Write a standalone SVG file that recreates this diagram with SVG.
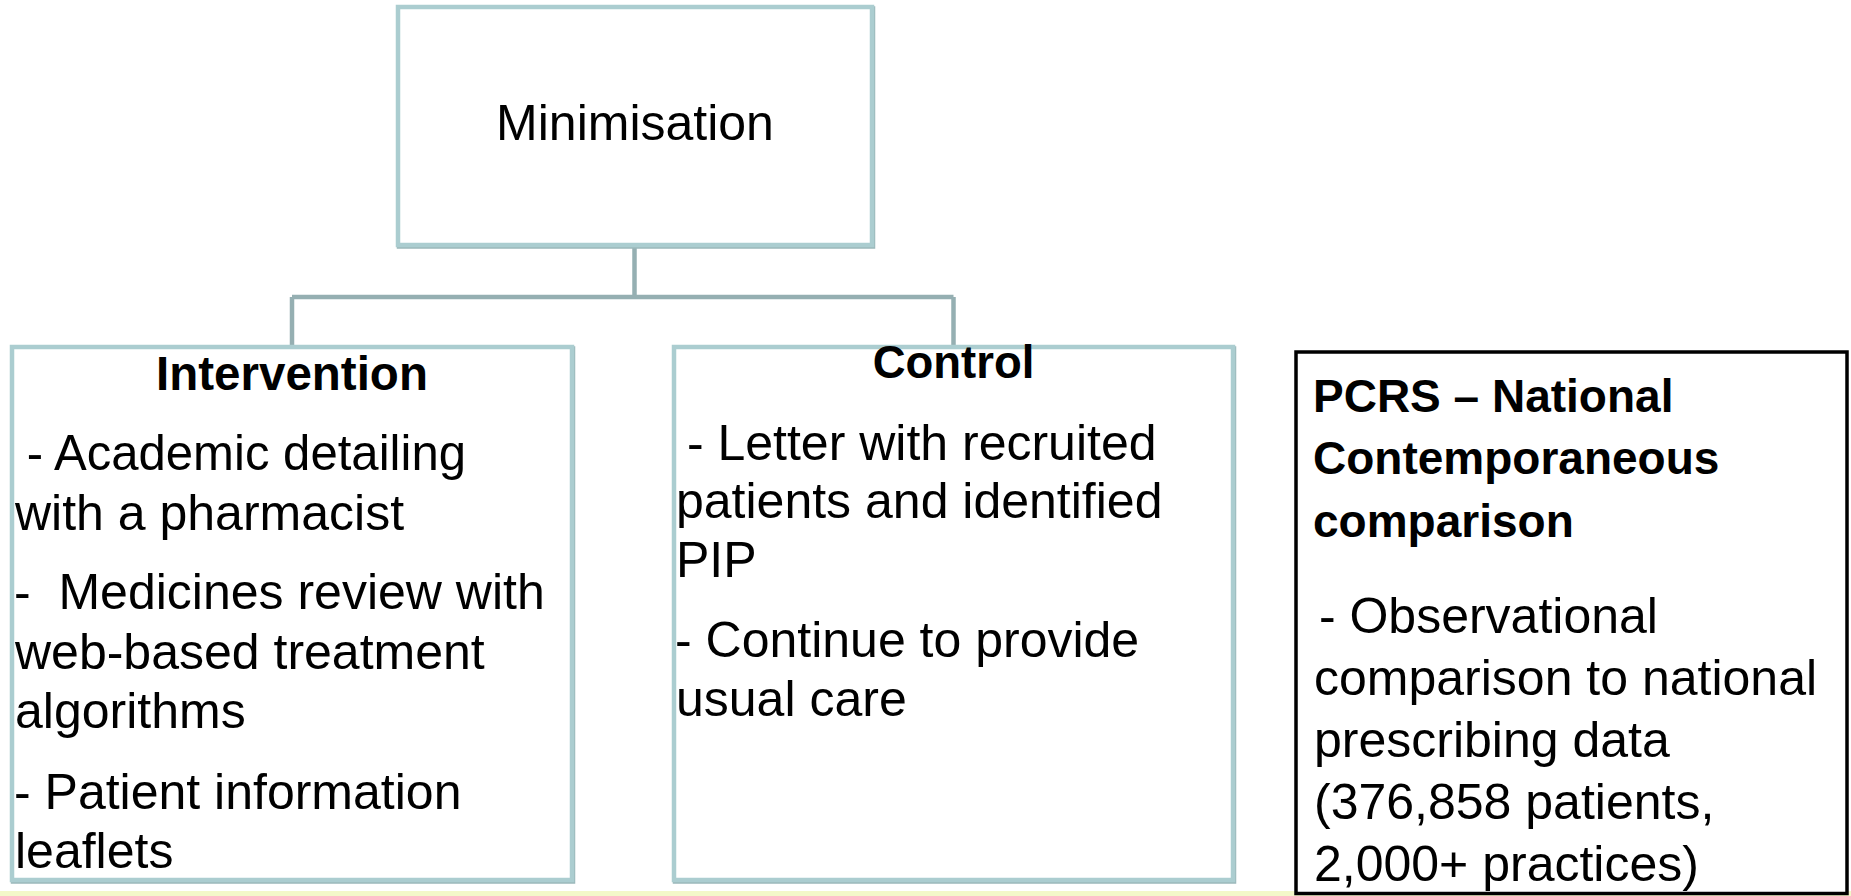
<svg xmlns="http://www.w3.org/2000/svg" width="1851" height="896" viewBox="0 0 1851 896">
<style>
.box{fill:#ffffff;stroke:#abcdd0;stroke-width:4.5}
.shadow{fill:none;stroke:#9bb8bb;stroke-width:4.5}
.conn{fill:none;stroke:#95afb2;stroke-width:4.5}
.t{font-family:"Liberation Sans",Arial,sans-serif;font-size:50px;fill:#000000}
.b{font-family:"Liberation Sans",Arial,sans-serif;font-weight:bold;fill:#000000}
</style>
<rect x="0" y="0" width="1851" height="896" fill="#ffffff"/>
<rect x="0" y="891" width="1851" height="5" fill="#f3f8c9"/>
<g id="connectors">
<path class="conn" d="M634.5,245 V297"/>
<path class="conn" d="M292,297 H953.5"/>
<path class="conn" d="M292,297 V347"/>
<path class="conn" d="M953.5,297 V347"/>
</g>
<g id="minimisation">
<rect class="shadow" x="399" y="8.5" width="474" height="238"/>
<rect class="box" x="398" y="7" width="474" height="238"/>
<text class="t" x="635" y="140" text-anchor="middle">Minimisation</text>
</g>
<g id="intervention">
<rect class="shadow" x="13" y="348.5" width="560" height="533"/>
<rect class="box" x="12" y="347" width="560" height="533"/>
<text class="b" x="292" y="390" font-size="47.5" text-anchor="middle">Intervention</text>
<text class="t" xml:space="preserve" x="13" y="470" textLength="453" lengthAdjust="spacingAndGlyphs"> - Academic detailing</text>
<text class="t" x="15" y="529.5">with a pharmacist</text>
<text class="t" xml:space="preserve" x="14" y="609">-  Medicines review with</text>
<text class="t" x="15" y="668.5">web-based treatment</text>
<text class="t" x="15" y="728">algorithms</text>
<text class="t" x="14" y="809">- Patient information</text>
<text class="t" x="15" y="868">leaflets</text>
</g>
<g id="control">
<rect class="shadow" x="675" y="348.5" width="559" height="533"/>
<rect class="box" x="674" y="347" width="559" height="533"/>
<text class="b" x="953.5" y="378" font-size="45.5" text-anchor="middle">Control</text>
<text class="t" xml:space="preserve" x="673" y="460"> - Letter with recruited</text>
<text class="t" x="676" y="518">patients and identified</text>
<text class="t" x="676" y="577">PIP</text>
<text class="t" x="675" y="657">- Continue to provide</text>
<text class="t" x="676" y="716">usual care</text>
</g>
<g id="pcrs">
<rect x="1296" y="352" width="551" height="541.5" fill="#ffffff" stroke="#000000" stroke-width="3.5"/>
<text class="b" x="1313" y="412" font-size="46">PCRS – National</text>
<text class="b" x="1313" y="474" font-size="46">Contemporaneous</text>
<text class="b" x="1313" y="537" font-size="46">comparison</text>
<text class="t" xml:space="preserve" x="1305" y="633"> - Observational</text>
<text class="t" x="1314" y="695">comparison to national</text>
<text class="t" x="1314" y="757">prescribing data</text>
<text class="t" x="1314" y="819">(376,858 patients,</text>
<text class="t" x="1314" y="881">2,000+ practices)</text>
</g>
</svg>
